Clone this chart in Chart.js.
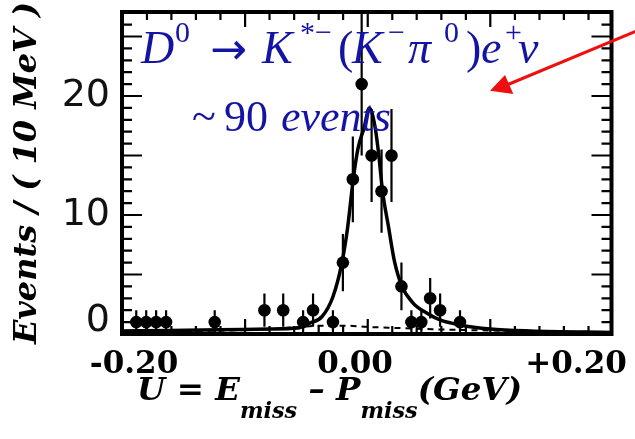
<!DOCTYPE html>
<html>
<head>
<meta charset="utf-8">
<script src="https://cdn.jsdelivr.net/npm/chart.js@4.4.1/dist/chart.umd.min.js"></script>
<style>
html,body{margin:0;padding:0;background:#fff;}
#wrap{width:635px;height:439px;position:relative;}
</style>
</head>
<body>
<div id="wrap"><canvas id="c" width="635" height="439"></canvas></div>
<script>
// ---- data ----
const binCenters = [-0.198,-0.189,-0.180,-0.171,-0.127,-0.082,-0.065,-0.047,-0.038,-0.020,-0.011,-0.002,0.006,0.015,0.024,0.033,0.042,0.051,0.060,0.068,0.077,0.095];
const counts     = [1,1,1,1,1,2,2,1,2,1,6,13,21,15,12,15,4,1,1,3,2,1];
const errors     = [1,1,1,1,1,1.4,1.4,1,1.4,1,2.4,3.6,6,3.9,3.5,3.9,2,1,1,1.7,1.4,1];

const fitX = [-0.213,-0.167,-0.122,-0.077,-0.052,-0.041,-0.030,-0.020,-0.012,-0.007,-0.0015,0.0027,0.0084,0.0129,0.0181,0.0213,0.0249,0.0303,0.0357,0.0425,0.0525,0.0652,0.0769,0.0950,0.1222,0.1584,0.2326];
const fitY = [0.25,0.3,0.35,0.42,0.5,0.92,1.45,3.13,5.94,8.74,13.1,15.6,17.4,19.0,17.4,15.2,12.0,9.0,6.1,4.0,2.6,1.74,1.18,0.76,0.42,0.25,0.13];

const bkgX = [-0.213,-0.140,-0.080,-0.050,-0.030,-0.010,0.010,0.040,0.070,0.120,0.233];
const bkgY = [0.15,0.25,0.4,0.6,0.7,0.7,0.6,0.5,0.4,0.3,0.15];

const xTickValues = [-0.2, 0, 0.2];
const xTickLabels = ['-0.20', '0.00', '+0.20'];
const yTickValues = [0, 10, 20];
const yTickLabels = ['0', '10', '20'];

const xFrameTicks = [-0.1883,-0.1662,-0.1440,-0.1218,-0.0995,-0.0774,-0.0551,-0.0329,-0.0108,0.0115,0.0337,0.0558,0.0781,0.1003,0.1224,0.1447,0.1669,0.1890,0.2113];
const xFrameMajor = [-0.0995, 0.0115, 0.1224];
const yFrameTicks = [1,2,3,4,5,6,7,8,9,10,11,12,13,14,15,16,17,18,19,20,21,22,23,24,25,26];
const yFrameMajor = [5,10,15,20,25];

const yTitle = 'Events / ( 10 MeV )';

// ---- plugins ----
const errBars = {
  id: 'errBars',
  beforeDatasetsDraw(chart) {
    const {ctx, chartArea: a, scales: {x, y}} = chart;
    ctx.save();
    ctx.beginPath(); ctx.rect(a.left, a.top, a.right - a.left, a.bottom - a.top); ctx.clip();
    ctx.strokeStyle = '#000'; ctx.lineWidth = 2.2;
    binCenters.forEach((b, i) => {
      const px = x.getPixelForValue(b);
      ctx.beginPath();
      ctx.moveTo(px, y.getPixelForValue(counts[i] - errors[i]));
      ctx.lineTo(px, y.getPixelForValue(counts[i] + errors[i]));
      ctx.stroke();
    });
    ctx.restore();
  }
};

const frame = {
  id: 'frame',
  afterDatasetsDraw(chart) {
    const {ctx, chartArea: a, scales: {x, y}} = chart;
    ctx.save();
    ctx.strokeStyle = '#000';
    ctx.lineWidth = 2.2;
    ctx.beginPath();
    xFrameTicks.forEach(v => {
      const px = x.getPixelForValue(v);
      const len = xFrameMajor.includes(v) ? 15 : 8;
      ctx.moveTo(px, a.top); ctx.lineTo(px, a.top + len);
      ctx.moveTo(px, a.bottom); ctx.lineTo(px, a.bottom - len);
    });
    yFrameTicks.forEach(v => {
      const py = y.getPixelForValue(v);
      const len = yFrameMajor.includes(v) ? 20 : 10;
      ctx.moveTo(a.left, py); ctx.lineTo(a.left + len, py);
      ctx.moveTo(a.right, py); ctx.lineTo(a.right - len, py);
    });
    ctx.stroke();
    ctx.lineWidth = 4;
    ctx.strokeRect(a.left, a.top, a.right - a.left, a.bottom - a.top);
    ctx.restore();
  }
};

function seg(ctx, text, x, y, font) {
  ctx.font = font;
  ctx.fillText(text, x, y);
}

const annot = {
  id: 'annot',
  afterDraw(chart) {
    const ctx = chart.ctx;
    ctx.save();
    ctx.textBaseline = 'alphabetic';
    ctx.textAlign = 'left';
    // blue decay label
    ctx.fillStyle = '#1414a4';
    const I = 'italic 46px "Liberation Serif"';
    const R = '46px "Liberation Serif"';
    const S = '30px "Liberation Serif"';
    const b = 63, sb = 42;
    seg(ctx, 'D', 141, b, I);
    seg(ctx, '0', 175, sb, S);
    seg(ctx, '\u2192', 210, b + 1, '44px "DejaVu Sans"');
    seg(ctx, 'K', 262, b, I);
    seg(ctx, '*\u2212', 300, sb, S);
    seg(ctx, '(', 338, b, R);
    seg(ctx, 'K', 352, b, I);
    seg(ctx, '\u2212', 388, sb, S);
    seg(ctx, '\u03c0', 408, b, I);
    seg(ctx, '0', 444, sb, S);
    seg(ctx, ')', 466, b, R);
    seg(ctx, 'e', 481, b, I);
    seg(ctx, '+', 505, sb, S);
    seg(ctx, '\u03bd', 518, b, I);
    // ~ 90 events
    seg(ctx, '~', 192, 131, '44px "Liberation Serif"');
    seg(ctx, '90', 224, 131, '44px "Liberation Serif"');
    seg(ctx, 'events', 281, 131, 'italic 44px "Liberation Serif"');

    // red arrow
    ctx.strokeStyle = '#ee1010';
    ctx.fillStyle = '#ee1010';
    ctx.lineWidth = 3;
    ctx.beginPath(); ctx.moveTo(640, 29.5); ctx.lineTo(508, 84.5); ctx.stroke();
    ctx.beginPath(); ctx.moveTo(490, 90.7); ctx.lineTo(505, 75); ctx.lineTo(513.3, 94); ctx.closePath(); ctx.fill();

    // x axis title with subscripts
    ctx.fillStyle = '#000';
    const M = 'bold italic 32px "DejaVu Serif"';
    const Sb = 'bold italic 22px "DejaVu Serif"';
    const mb = 400, subb = 418;
    const parts = [['U', M, mb], [' = ', M, mb], ['E', M, mb], ['miss', Sb, subb], [' \u2013 ', M, mb], ['P', M, mb], ['miss', Sb, subb], ['(GeV)', M, mb]];
    let total = 0;
    parts.forEach(p => { ctx.font = p[1]; total += ctx.measureText(p[0]).width; });
    const x0 = 137, x1 = 522;
    const k = (x1 - x0) / total;
    ctx.save();
    ctx.translate(x0, 0);
    ctx.scale(k, 1);
    let cx = 0;
    parts.forEach(p => { ctx.font = p[1]; ctx.fillText(p[0], cx, p[2]); cx += ctx.measureText(p[0]).width; });
    ctx.restore();
    ctx.restore();
  }
};

const yFontBase = {family: '"DejaVu Sans"', size: 38};

new Chart(document.getElementById('c'), {
  type: 'scatter',
  data: {
    datasets: [
      {
        label: 'data',
        data: binCenters.map((v, i) => ({x: v, y: counts[i]})),
        pointRadius: 6.3,
        pointBackgroundColor: '#000',
        pointBorderColor: '#000',
        pointBorderWidth: 0,
        showLine: false
      },
      {
        label: 'fit',
        type: 'line',
        data: fitX.map((v, i) => ({x: v, y: fitY[i]})),
        borderColor: '#000',
        borderWidth: 3.5,
        pointRadius: 0,
        fill: false,
        cubicInterpolationMode: 'monotone'
      },
      {
        label: 'background',
        type: 'line',
        data: bkgX.map((v, i) => ({x: v, y: bkgY[i]})),
        borderColor: '#000',
        borderWidth: 2,
        borderDash: [6, 5],
        pointRadius: 0,
        fill: false,
        cubicInterpolationMode: 'monotone'
      }
    ]
  },
  options: {
    responsive: false,
    animation: false,
    events: [],
    layout: {padding: {left: 0, right: 23.5, top: 12, bottom: 0}},
    plugins: {legend: {display: false}, tooltip: {enabled: false}},
    scales: {
      x: {
        type: 'linear',
        min: -0.2109,
        max: 0.2321,
        afterBuildTicks: s => { s.ticks = xTickValues.map(v => ({value: v})); },
        afterFit: s => { s.height = 105; s.paddingLeft = 0; s.paddingRight = 0; },
        grid: {display: false, drawTicks: false},
        border: {display: false},
        ticks: {
          autoSkip: false, maxRotation: 0, padding: 12,
          color: '#000',
          font: {family: '"DejaVu Serif"', weight: 'bold', size: 31},
          callback: (v, i) => xTickLabels[i]
        }
      },
      y: {
        type: 'linear',
        min: 0,
        max: 27.06,
        afterBuildTicks: s => { s.ticks = yTickValues.map(v => ({value: v})); },
        afterFit: s => { s.width = 122; s.paddingTop = 0; s.paddingBottom = 0; },
        grid: {display: false, drawTicks: false},
        border: {display: false},
        ticks: {
          autoSkip: false, padding: 12,
          color: '#111',
          font: c => (c.tick && c.tick.value === 0) ? Object.assign({}, yFontBase, {lineHeight: '26px'}) : yFontBase,
          callback: (v, i) => v === 0 ? [yTickLabels[i], ''] : yTickLabels[i]
        },
        title: {
          display: true,
          text: yTitle,
          color: '#000',
          padding: {top: 8, bottom: 0},
          font: {family: '"DejaVu Serif"', weight: 'bold', style: 'italic', size: 32}
        }
      }
    }
  },
  plugins: [errBars, frame, annot]
});
</script>
</body>
</html>
